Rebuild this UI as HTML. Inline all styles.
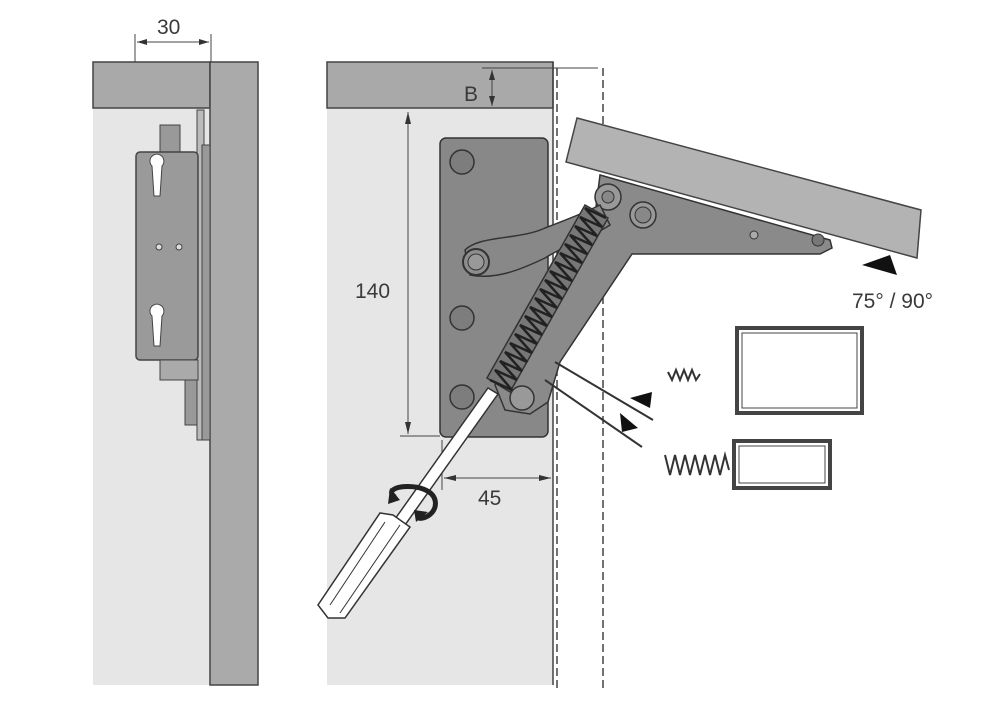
<!DOCTYPE html>
<html><head><meta charset="utf-8"><style>html,body{margin:0;padding:0;background:#fff}svg{display:block}text{font-family:"Liberation Sans",sans-serif;fill:#3a3a3a}</style></head>
<body>
<svg width="1000" height="705" viewBox="0 0 1000 705" xmlns="http://www.w3.org/2000/svg">
<!-- LEFT VIEW -->
<rect x="93" y="108" width="117" height="577" fill="#e6e6e6"/>
<rect x="93" y="62" width="117" height="46" fill="#a9a9a9" stroke="#444" stroke-width="1.5"/>
<rect x="210" y="62" width="48" height="623" fill="#aaa" stroke="#444" stroke-width="1.5"/>
<line x1="135" y1="34" x2="135" y2="62" stroke="#444"/>
<line x1="211" y1="34" x2="211" y2="62" stroke="#444"/>
<line x1="137" y1="42" x2="209" y2="42" stroke="#444"/>
<polygon points="137,42 147,39 147,45" fill="#333"/><polygon points="209,42 199,39 199,45" fill="#333"/>
<text x="157" y="34" font-size="21">30</text>
<rect x="197" y="110" width="7" height="330" fill="#bbb" stroke="#444"/>
<rect x="202" y="145" width="8" height="295" fill="#999" stroke="#444"/>
<rect x="160" y="125" width="20" height="30" fill="#999" stroke="#444"/>
<rect x="136" y="152" width="62" height="208" rx="4" fill="#9a9a9a" stroke="#444" stroke-width="1.5"/>
<path d="M150,160 a7,7 0 1 1 12,6 l-2,30 h-6 l-2,-30 a7,7 0 0 1 -2,-6z" fill="#fff" stroke="#444"/>
<path d="M150,310 a7,7 0 1 1 12,6 l-2,30 h-6 l-2,-30 a7,7 0 0 1 -2,-6z" fill="#fff" stroke="#444"/>
<circle cx="159" cy="247" r="3" fill="#ddd" stroke="#444"/><circle cx="179" cy="247" r="3" fill="#ddd" stroke="#444"/>
<rect x="160" y="360" width="38" height="20" fill="#aaa" stroke="#444"/>
<rect x="185" y="380" width="12" height="45" fill="#999" stroke="#444"/>
<!-- RIGHT VIEW -->
<rect x="327" y="108" width="226" height="577" fill="#e6e6e6"/>
<rect x="327" y="62" width="226" height="46" fill="#a9a9a9" stroke="#444" stroke-width="1.5"/>
<line x1="553" y1="62" x2="553" y2="685" stroke="#444" stroke-width="1.5"/>
<line x1="557" y1="68" x2="557" y2="690" stroke="#444" stroke-width="1.5" stroke-dasharray="8,4"/>
<line x1="603" y1="68" x2="603" y2="690" stroke="#444" stroke-width="1.5" stroke-dasharray="8,4"/>
<line x1="482" y1="68" x2="598" y2="68" stroke="#444"/>
<line x1="492" y1="70" x2="492" y2="106" stroke="#444"/>
<polygon points="492,70 489,80 495,80" fill="#333"/><polygon points="492,106 489,96 495,96" fill="#333"/>
<text x="464" y="101" font-size="21">B</text>
<line x1="408" y1="112" x2="408" y2="434" stroke="#444"/>
<polygon points="408,112 405,124 411,124" fill="#333"/><polygon points="408,434 405,422 411,422" fill="#333"/>
<line x1="400" y1="436" x2="440" y2="436" stroke="#444"/>
<text x="355" y="298" font-size="21">140</text>
<line x1="442" y1="440" x2="442" y2="490" stroke="#444"/>
<line x1="444" y1="478" x2="551" y2="478" stroke="#444"/>
<polygon points="444,478 456,475 456,481" fill="#333"/><polygon points="551,478 539,475 539,481" fill="#333"/>
<text x="478" y="505" font-size="21">45</text>
<!-- plate -->
<rect x="440" y="138" width="108" height="299" rx="6" fill="#888" stroke="#333" stroke-width="1.5"/>
<circle cx="462" cy="162" r="12" fill="#7d7d7d" stroke="#333" stroke-width="1.5"/>
<circle cx="462" cy="318" r="12" fill="#7d7d7d" stroke="#333" stroke-width="1.5"/>
<circle cx="462" cy="397" r="12" fill="#7d7d7d" stroke="#333" stroke-width="1.5"/>
<!-- flap -->
<polygon points="577,118 921,210 917,258 566,162" fill="#b3b3b3" stroke="#444" stroke-width="1.5"/>
<!-- bracket -->
<polygon points="600,175 830,240 832,248 820,254 632,254 560,362 548,402 530,414 505,410 495,385 595,215" fill="#8a8a8a" stroke="#333" stroke-width="1.5"/>
<circle cx="608" cy="197" r="13" fill="#999" stroke="#333" stroke-width="1.5"/><circle cx="608" cy="197" r="6" fill="#888" stroke="#333"/>
<circle cx="643" cy="215" r="13" fill="#999" stroke="#333" stroke-width="1.5"/><circle cx="643" cy="215" r="8" fill="#888" stroke="#333"/>
<circle cx="754" cy="235" r="4" fill="#aaa" stroke="#333"/>
<circle cx="818" cy="240" r="6" fill="#777" stroke="#333"/>
<!-- arm -->
<path d="M465,250 C480,235 520,240 545,228 C565,220 580,215 600,205 L610,225 C590,238 565,245 545,258 C520,270 495,280 470,275 Z" fill="#888" stroke="#333" stroke-width="1.5"/>
<circle cx="476" cy="262" r="13" fill="#8d8d8d" stroke="#333" stroke-width="2"/><circle cx="476" cy="262" r="8" fill="#999" stroke="#333"/>
<!-- spring band -->
<polygon points="487,378 585,205 608,218 510,392" fill="#777" stroke="#333" stroke-width="1.5"/>
<polyline points="490,380 512,390 495,370 517,380 500,361 522,371 505,352 527,362 510,343 532,353 515,334 537,344 520,325 542,335 525,316 547,326 530,307 552,317 535,298 557,308 540,289 562,299 545,280 567,290 550,271 572,281 555,262 577,272 560,253 582,263 565,244 587,254 570,235 592,245 575,226 597,236 580,217 602,227 585,208 606,218" fill="none" stroke="#222" stroke-width="2.5"/>
<circle cx="522" cy="398" r="12" fill="#999" stroke="#333" stroke-width="1.5"/>
<!-- screwdriver -->
<polygon points="488,388 498,394 405,525 395,519" fill="#fff" stroke="#333" stroke-width="1.5"/>
<polygon points="393,515 410,527 345,618 328,618 318,605 380,513" fill="#fff" stroke="#333" stroke-width="1.5"/>
<line x1="385" y1="522" x2="330" y2="605" stroke="#333"/><line x1="400" y1="525" x2="340" y2="613" stroke="#333"/>
<path d="M395,497 C378,485 430,480 435,500 C438,512 425,520 418,518" fill="none" stroke="#222" stroke-width="5"/>
<polygon points="390,488 400,500 388,504" fill="#222"/><polygon points="428,512 416,522 414,510" fill="#222"/>
<!-- pivot lines -->
<line x1="555" y1="362" x2="653" y2="420" stroke="#333" stroke-width="2"/>
<line x1="545" y1="380" x2="642" y2="447" stroke="#333" stroke-width="2"/>
<polygon points="630,398 652,392 650,408" fill="#111"/>
<polygon points="620,413 638,428 622,432" fill="#111"/>
<polygon points="862,265 890,255 897,275" fill="#111"/>
<text x="852" y="308" font-size="21">75° / 90°</text>
<!-- boxes -->
<rect x="737" y="328" width="125" height="85" fill="#fff" stroke="#444" stroke-width="4"/>
<rect x="742" y="333" width="115" height="75" fill="none" stroke="#444"/>
<rect x="734" y="441" width="96" height="47" fill="#fff" stroke="#444" stroke-width="4"/>
<rect x="739" y="446" width="86" height="37" fill="none" stroke="#444"/>
<polyline points="668,372 672,380 676,370 680,380 684,370 688,380 692,370 696,380 700,374" fill="none" stroke="#333" stroke-width="2"/>
<polyline points="665,455 670,475 675,455 680,475 685,455 690,475 695,455 700,475 705,455 710,475 715,455 720,475 725,455 729,470" fill="none" stroke="#333" stroke-width="2"/>
</svg>
</body></html>
